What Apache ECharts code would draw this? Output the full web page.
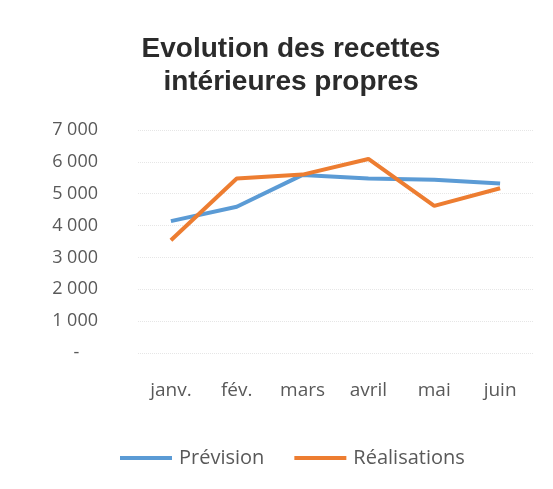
<!DOCTYPE html>
<html><head><meta charset="utf-8">
<script src="https://cdn.jsdelivr.net/npm/echarts@6/dist/echarts.min.js"></script>
<style>html,body{margin:0;padding:0;background:#fff}#c{width:553px;height:489px}</style>
</head><body><div id="c"></div>
<script>
const categories = ['janv.', 'fév.', 'mars', 'avril', 'mai', 'juin'];
const prevision = [4140, 4590, 5590, 5480, 5440, 5320];
const realisations = [3540, 5480, 5600, 6090, 4620, 5170];
const seriesNames = ['Prévision', 'Réalisations'];
const titleText = 'Evolution des recettes\nintérieures propres';

const chart = echarts.init(document.getElementById('c'), null, {renderer: 'canvas'});
const labelFont = '"Open Sans", sans-serif';
chart.setOption({
  backgroundColor: '#fff',
  animation: false,
  title: {
    text: titleText, left: 286, textAlign: 'center', top: 28,
    textStyle: {fontFamily: '"Liberation Sans", Arial, sans-serif', fontSize: 28, fontWeight: 'bold', color: '#2b2b2b', lineHeight: 33}
  },
  legend: {
    data: seriesNames, bottom: 16, left: 115, itemWidth: 52, itemHeight: 4, itemGap: 30,
    icon: 'rect',
    textStyle: {fontFamily: labelFont, fontSize: 20, color: '#595959', padding: [0, 0, 0, 2]}
  },
  grid: {left: 138, right: 20, top: 130, bottom: 136},
  xAxis: {
    type: 'category', data: categories, boundaryGap: true,
    axisLine: {show: false}, axisTick: {show: false},
    axisLabel: {margin: 28, fontFamily: labelFont, fontSize: 19, color: '#595959'}
  },
  yAxis: {
    type: 'value', min: 0, max: 7000, interval: 1000,
    axisLine: {show: false}, axisTick: {show: false},
    splitLine: {lineStyle: {color: '#e6e6e6', type: 'dotted', width: 1}},
    axisLabel: {
      margin: 40, fontFamily: labelFont, fontSize: 18, color: '#595959',
      formatter: v => v === 0 ? '-    ' : String(v).replace(/\B(?=(\d{3})+(?!\d))/g, ' ')
    }
  },
  series: [
    {name: seriesNames[0], type: 'line', data: prevision, symbol: 'none', lineStyle: {width: 4, color: '#5B9BD5'}, itemStyle: {color: '#5B9BD5'}},
    {name: seriesNames[1], type: 'line', data: realisations, symbol: 'none', lineStyle: {width: 4, color: '#ED7D31'}, itemStyle: {color: '#ED7D31'}}
  ]
});
</script></body></html>
